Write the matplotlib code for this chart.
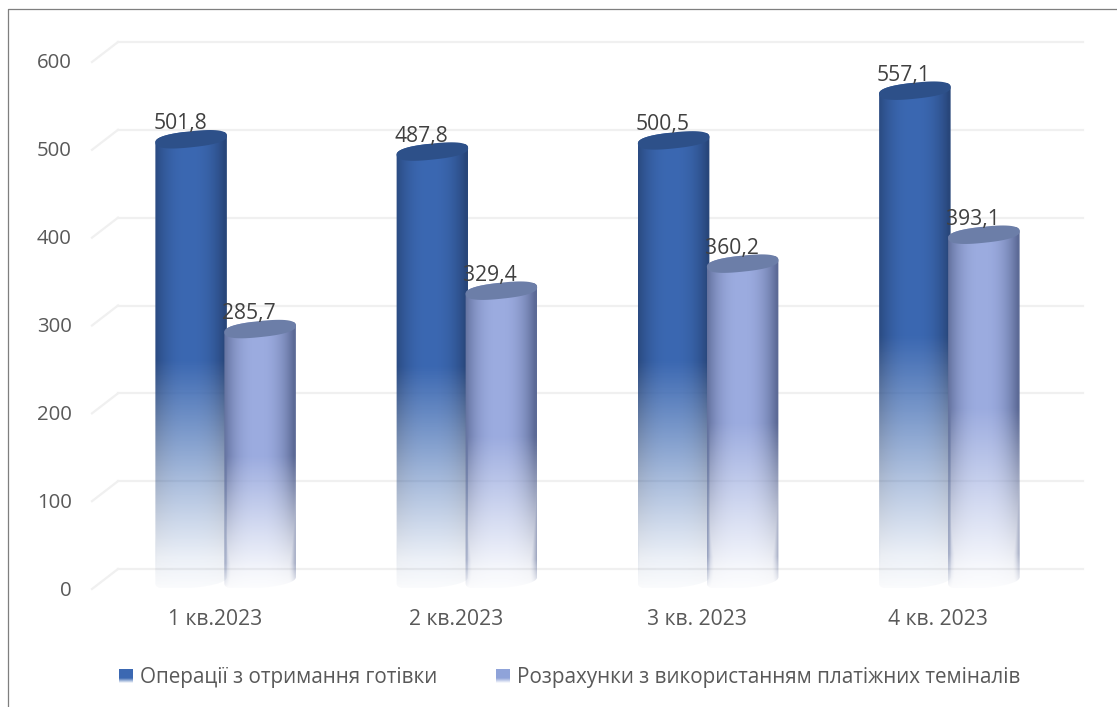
import numpy as np
import matplotlib
matplotlib.use("Agg")
import matplotlib.pyplot as plt
from matplotlib.lines import Line2D
from matplotlib.patches import PathPatch, Rectangle, Patch
from matplotlib.path import Path
from matplotlib.transforms import Affine2D, IdentityTransform
from matplotlib.legend_handler import HandlerBase

categories = ["1 кв.2023", "2 кв.2023", "3 кв. 2023", "4 кв. 2023"]
cash_ops = [501.8, 487.8, 500.5, 557.1]
terminal_pay = [285.7, 329.4, 360.2, 393.1]
series_names = ["Операції з отримання готівки",
                "Розрахунки з використанням платіжних теміналів"]
y_ticks = [0, 100, 200, 300, 400, 500, 600]

W, H = 1117, 707
plt.rcParams['font.family'] = ['Open Sans', 'DejaVu Sans']
fig = plt.figure(figsize=(W / 100, H / 100), dpi=100, facecolor="white")
ax = fig.add_axes([94 / W, (H - 588) / H, 965 / W, 527 / H], facecolor="none")
ax.set_xlim(-0.5, 3.5)
ax.set_ylim(0, 600)

mid = ax.transData + Affine2D().translate(11, 8)
back = ax.transData + Affine2D().translate(24, 19)

GRID = "#f0f0f0"
for v in y_ticks:
    ax.plot([-0.5, 3.5], [v, v], transform=back, color=GRID, lw=1.6, clip_on=False, zorder=1)
    p0 = ax.transData.transform((-0.5, v))
    ax.add_line(Line2D([p0[0] - 2, p0[0] + 24], [p0[1] - 1, p0[1] + 19], transform=IdentityTransform(),
                       color=GRID, lw=1.6, clip_on=False, zorder=1))

N_H, N_W = 300, 90
t = np.linspace(0, 1, N_H)[:, None]
u = np.linspace(-1, 1, N_W)[None, :]


def cylinder(center, edge, edge_keep):
    shade = np.clip(np.abs(u + 0.05) ** 2.4, 0, 1)[..., None]
    rgb = np.array(center)[None, None, :] * (1 - shade) + np.array(edge)[None, None, :] * shade
    rgb = np.broadcast_to(rgb, (N_H, N_W, 3))
    alpha = np.interp(t, [0, .5, .77, .93, 1.0], [1, 1, .42, .1, .02])
    boost = np.abs(u) ** 7 * edge_keep * np.interp(t, [0, .9, 1.0], [1, 1, 0])
    a = np.maximum(alpha, boost)
    return np.dstack([rgb / 255.0, a])


STYLES = [
    dict(center=(59, 104, 178), edge=(40, 70, 122), top="#2d5089", keep=0.2),
    dict(center=(156, 172, 224), edge=(92, 106, 150), top="#6c7ea8", keep=0.6),
]
OFFS = [-0.143, 0.143]
BAR_W = 0.298
TILT = np.deg2rad(6)
ELL_H = 16.0


def ellipse_pts(cx, cy, a, b, th0, th1, n=60):
    th = np.linspace(th0, th1, n)
    c, s = np.cos(th), np.sin(th)
    x = a * np.sign(c) * np.abs(c) ** 0.8
    y = b * np.sign(s) * np.abs(s) ** 0.8
    return np.c_[cx + x * np.cos(TILT) - y * np.sin(TILT), cy + x * np.sin(TILT) + y * np.cos(TILT)]


def draw_bar(x, val, style, z):
    x0, x1 = x - BAR_W / 2, x + BAR_W / 2
    img = ax.imshow(cylinder(style["center"], style["edge"], style["keep"]),
                    extent=(x0, x1, -12, val + 8), aspect="auto", transform=mid,
                    interpolation="bilinear", zorder=z)
    pa = mid.transform((x, val))
    pb = mid.transform((x, 0))
    half = abs(mid.transform((x1, 0))[0] - mid.transform((x0, 0))[0]) / 2
    outline = np.vstack([ellipse_pts(pa[0], pa[1], half, ELL_H / 2, 0, np.pi),
                         ellipse_pts(pb[0], pb[1], half, ELL_H / 2, np.pi, 2 * np.pi)])
    clip = PathPatch(Path(np.vstack([outline, outline[:1]]), closed=True), transform=IdentityTransform())
    img.set_clip_path(clip)
    cap = ellipse_pts(pa[0], pa[1], half, ELL_H / 2, 0, 2 * np.pi)
    ax.add_patch(PathPatch(Path(cap, closed=True), transform=IdentityTransform(),
                           facecolor=style["top"], edgecolor="none", zorder=z + 0.1, clip_on=False))
    ax.annotate(f"{val:.1f}".replace(".", ","), xy=(x, val), xycoords=mid,
                xytext=(-11, 5), textcoords="offset pixels", ha="center", va="bottom",
                fontsize=15.2, color="#404040", zorder=20, annotation_clip=False)


for i in range(len(categories)):
    draw_bar(i + OFFS[0], cash_ops[i], STYLES[0], 5)
    draw_bar(i + OFFS[1], terminal_pay[i], STYLES[1], 6)

ax.set_xlim(-0.5, 3.5)
ax.set_ylim(0, 600)
for s in ax.spines.values():
    s.set_visible(False)
ax.set_xticks(range(len(categories)), categories)
ax.set_yticks(y_ticks, [str(v) for v in y_ticks])
ax.tick_params(axis="y", length=0, pad=16, labelsize=14.7, labelcolor="#595959")
ax.tick_params(axis="x", length=0, pad=15, labelsize=15.2, labelcolor="#595959")


class GradHandler(HandlerBase):
    def __init__(self, color):
        super().__init__()
        self.color = color

    def create_artists(self, legend, orig, xd, yd, width, height, fontsize, trans):
        arts = []
        w, h = 14 * 0.72, 14 * 0.72
        x0, y0 = -xd, (height - h) / 2 - yd
        art = Rectangle((x0, y0 + h * .35), w, h * .65, facecolor=self.color, edgecolor="none", transform=trans)
        arts.append(art)
        n = 5
        for k in range(n):
            arts.append(Rectangle((x0, y0 + h * .35 * k / n), w, h * .35 / n, facecolor=self.color,
                                  alpha=(k + 0.5) / n, edgecolor="none", transform=trans))
        return arts


handles = [Patch(label=series_names[0]), Patch(label=series_names[1])]
leg = fig.legend(handles=handles, ncol=2, loc="center left", bbox_to_anchor=(119 / W, (H - 678) / H),
                 frameon=False, fontsize=14.9, labelcolor="#595959", borderpad=0, borderaxespad=0,
                 handlelength=1.0, handletextpad=0.0, columnspacing=2.87,
                 handler_map={handles[0]: GradHandler("#3b68b2"), handles[1]: GradHandler("#8fa3d9")})

fig.add_artist(Line2D([7.5 / W, 7.5 / W, 1], [0, (H - 9) / H, (H - 9) / H], color="#7f7f7f", lw=0.9))
fig.savefig("out.png", dpi=100)
